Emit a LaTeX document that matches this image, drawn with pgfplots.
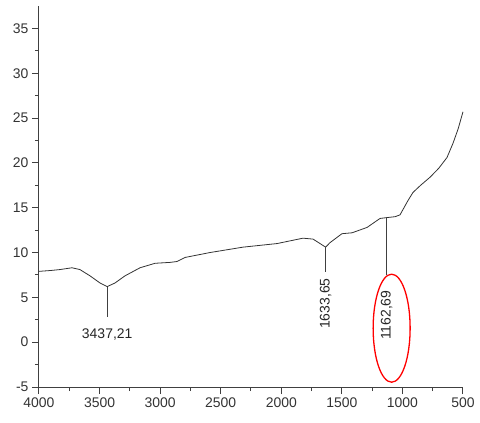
\documentclass[border=0pt]{standalone}
\usepackage{pgfplots}
\pgfplotsset{compat=1.18}
\usepackage{fontspec}
\setmainfont{Liberation Sans}
\begin{document}
\begin{tikzpicture}
\path (-39bp,-36bp) rectangle (441bp,387bp);
\begin{axis}[at={(0,0)}, anchor=south west, scale only axis,
  width=424bp, height=381bp,
  xmin=500, xmax=4000, x dir=reverse, ymin=-5, ymax=37.5,
  axis lines*=left,
  xtick={500,1000,...,4000}, minor x tick num=1,
  ytick={-5,0,...,35}, minor y tick num=1,
  tick align=outside, major tick length=7bp, minor tick length=4bp,
  tick label style={font=\fontsize{14}{16}\selectfont, text=black!80},
  /pgf/number format/assume math mode=true,
  /pgf/number format/1000 sep={},
  axis line style={draw=black!75, line width=1pt},
  every tick/.style={draw=black!75, line width=1pt},
  clip=false]
\addplot[black!80, line width=0.8pt] table {
4000 7.9
3900 8.0
3827 8.1
3728 8.3
3662 8.1
3579 7.4
3496 6.6
3437 6.2
3373 6.6
3290 7.4
3166 8.3
3042 8.8
2919 8.9
2860 9.0
2795 9.45
2588 10.0
2316 10.6
2035 11.0
1821 11.6
1738 11.5
1680 11.0
1634 10.6
1598 11.1
1499 12.1
1416 12.2
1292 12.8
1185 13.8
1127 13.9
1060 14.0
1020 14.2
954 15.8
913 16.7
850 17.5
772 18.4
700 19.4
632 20.6
582 22.2
540 23.8
500 25.7
};
\draw[black!75, line width=0.8pt] (axis cs:3437,6.2) -- (axis cs:3437,2.8);
\node[font=\fontsize{14}{16}\selectfont, text=black!85] at (axis cs:3437,0.9) {3437,21};
\draw[black!75, line width=0.8pt] (axis cs:1634,10.6) -- (axis cs:1634,7.8);
\node[rotate=90, font=\fontsize{14}{16}\selectfont, text=black!85] at (axis cs:1634,4.3) {1633,65};
\draw[black!75, line width=0.8pt] (axis cs:1130,13.9) -- (axis cs:1130,7.5);
\node[rotate=90, font=\fontsize{14}{16}\selectfont, text=black!85] at (axis cs:1130,3.0) {1162,69};
\draw[red, line width=1.3pt] (axis cs:1089,1.56) ellipse [x radius=18.5bp, y radius=54bp];
\end{axis}
\end{tikzpicture}
\end{document}
